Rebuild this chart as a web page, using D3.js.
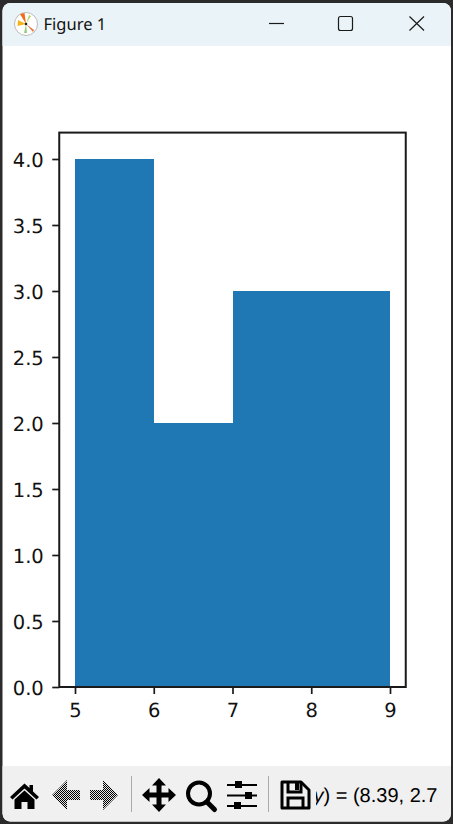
<!DOCTYPE html>
<html>
<head>
<meta charset="utf-8">
<script src="https://cdn.jsdelivr.net/npm/d3@7"></script>
<style>
html,body{margin:0;padding:0;background:#2b2b2b;overflow:hidden}
svg{display:block}
text{text-rendering:geometricPrecision}
</style>
</head>
<body>
<svg id="c" width="453" height="824"></svg>
<script>
const binStarts = [5, 6, 7, 8];
const binEnds = [6, 7, 8, 9];
const counts = [4, 2, 3, 3];
const xTicks = [5, 6, 7, 8, 9];
const yTicks = [0, 0.5, 1, 1.5, 2, 2.5, 3, 3.5, 4];
const windowTitle = "Figure 1";
const statusText = "y) = (8.39, 2.7";

const svg = d3.select("#c");
const defs = svg.append("defs");
const pat = defs.append("pattern").attr("id","chk").attr("width",2).attr("height",2).attr("patternUnits","userSpaceOnUse");
pat.append("rect").attr("width",2).attr("height",2).attr("fill","#e4e4e4");
pat.append("rect").attr("width",1).attr("height",1).attr("fill","#000");
pat.append("rect").attr("x",1).attr("y",1).attr("width",1).attr("height",1).attr("fill","#000");
defs.append("clipPath").attr("id","statusClip").append("rect").attr("x",316).attr("y",770).attr("width",132).attr("height",50);

// window chrome
svg.append("rect").attr("x",2.5).attr("y",3).attr("width",448.5).attr("height",818.5).attr("rx",8).attr("fill","#fff");
svg.append("path").attr("d","M2.5 46V11a8 8 0 0 1 8-8H443a8 8 0 0 1 8 8V46Z").attr("fill","#eaf3f7");
svg.append("path").attr("d","M2.5 766H451V813.5a8 8 0 0 1-8 8H10.5a8 8 0 0 1-8-8Z").attr("fill","#f0f0f0");

// title bar icon
const ic = svg.append("g").attr("transform","translate(26,24)");
ic.append("circle").attr("r",11.5).attr("fill","#fff").attr("stroke","#bbb");
ic.append("path").attr("d","M0 0L-6 -10L-1.5 -11Z").attr("fill","#f26b1d");
ic.append("path").attr("d","M0 0L-8 -4L-8.5 2Z").attr("fill","#f4b41a");
ic.append("path").attr("d","M0 0L3 -9L5 -8Z").attr("fill","#b5d56a");
ic.append("path").attr("d","M0 0L-2 9L1 9Z").attr("fill","#8fd07a");
ic.append("path").attr("d","M0 0L8 6L7 8Z").attr("fill","#e8743b");
ic.append("circle").attr("r",1.3).attr("fill","#222");
svg.append("text").attr("x",43.5).attr("y",30).attr("font-family","'Noto Sans','Open Sans',sans-serif").attr("font-size",16.5).attr("fill","#111").text(windowTitle);
const wc = svg.append("g").attr("fill","none").attr("stroke","#1a1a1a").attr("stroke-width",1.2);
wc.append("path").attr("d","M269 23.5H284");
wc.append("rect").attr("x",338.5).attr("y",16.5).attr("width",14).attr("height",14).attr("rx",2);
wc.append("path").attr("d","M409.5 16.5L424 30.5M424 16.5L409.5 30.5");

// chart
const x = d3.scaleLinear().domain([4.8, 9.2]).range([59.25, 405.75]);
const y = d3.scaleLinear().domain([0, 4.2]).range([687, 132.6]);
const bars = binStarts.map((s,i)=>({s, e:binEnds[i], c:counts[i]}));
svg.append("g").attr("shape-rendering","crispEdges").selectAll("rect").data(bars).join("rect")
  .attr("x",d=>x(d.s)).attr("width",d=>x(d.e)-x(d.s)+(d.e<9?0.5:0))
  .attr("y",d=>y(d.c)).attr("height",d=>y(0)-y(d.c)).attr("fill","#1f77b4");

const xAxis = svg.append("g").attr("transform",`translate(0,${y(0)})`)
  .call(d3.axisBottom(x).tickValues(xTicks).tickFormat(d3.format("d")).tickSize(7).tickPadding(9));
const yAxis = svg.append("g").attr("transform",`translate(${x.range()[0]},0)`)
  .call(d3.axisLeft(y).tickValues(yTicks).tickFormat(d3.format(".1f")).tickSize(7).tickPadding(8.5));
[xAxis,yAxis].forEach(a=>{
  a.select(".domain").remove();
  a.selectAll("line").attr("stroke","#1a1a1a").attr("stroke-width",1.7);
  a.selectAll("text").attr("font-family","'DejaVu Sans'").attr("font-size",19.5).attr("fill","#111");
});
yAxis.selectAll("text").attr("dy","0.36em");
svg.append("rect").attr("x",x.range()[0]).attr("y",y.range()[1]).attr("width",x.range()[1]-x.range()[0]).attr("height",y.range()[0]-y.range()[1])
  .attr("fill","none").attr("stroke","#1a1a1a").attr("stroke-width",2);

// toolbar icons
const tb = svg.append("g");
// home
tb.append("path").attr("d","M24.5 783.5L10 797L12.5 799.5L24.5 788.5L36.5 799.5L39 797L33 791.5V785H29.5V788Z").attr("fill","#000");
tb.append("path").attr("d","M14.5 799.5L24.5 790.5L34.5 799.5V809H27.5V802H21.5V809H14.5Z").attr("fill","#000");
// back / forward
tb.append("path").attr("d","M67 780L52 795L67 810V800H80V790H67Z").attr("fill","url(#chk)");
tb.append("path").attr("d","M103 780L118 795L103 810V800H90V790H103Z").attr("fill","url(#chk)");
// separators
tb.append("rect").attr("x",131).attr("y",776).attr("width",1).attr("height",36).attr("fill","#aaa");
tb.append("rect").attr("x",268).attr("y",776).attr("width",1).attr("height",36).attr("fill","#aaa");
// move
tb.append("path").attr("d","M159 778L166 785.5H161.5V792.5H168.5V788L176 795L168.5 802V797.5H161.5V804.5H166L159 812L152 804.5H156.5V797.5H149.5V802L142 795L149.5 788V792.5H156.5V785.5H152Z").attr("fill","#000");
// zoom
tb.append("circle").attr("cx",199).attr("cy",793.5).attr("r",11).attr("fill","none").attr("stroke","#000").attr("stroke-width",4);
tb.append("path").attr("d","M207 802L214.5 809.5").attr("stroke","#000").attr("stroke-width",5).attr("stroke-linecap","round");
// sliders
const sl = tb.append("g").attr("stroke","#000").attr("stroke-width",2);
sl.append("path").attr("d","M227 785H257M227 795.5H257M227 806H257");
const slb = tb.append("g").attr("fill","#000");
slb.append("rect").attr("x",235).attr("y",781).attr("width",7).attr("height",7);
slb.append("rect").attr("x",245).attr("y",792).attr("width",7).attr("height",7);
slb.append("rect").attr("x",234).attr("y",802).attr("width",7).attr("height",7);
// save
const sv = tb.append("g").attr("fill","none").attr("stroke","#000").attr("stroke-width",3);
sv.append("path").attr("d","M282 782H301L309 790V808H282Z").attr("stroke-linejoin","round");
sv.append("path").attr("d","M288 782V792H301V782");
sv.append("path").attr("d","M288 808V798H303V808");
tb.append("rect").attr("x",295).attr("y",783).attr("width",4).attr("height",7).attr("fill","#000");

// status text
const st = svg.append("text").attr("clip-path","url(#statusClip)").attr("x",313.5).attr("y",802)
  .attr("font-family","'Liberation Sans',sans-serif").attr("font-size",20).attr("fill","#000");
st.append("tspan").attr("font-style","italic").text(statusText[0]);
st.append("tspan").text(statusText.slice(1));
</script>
</body>
</html>
